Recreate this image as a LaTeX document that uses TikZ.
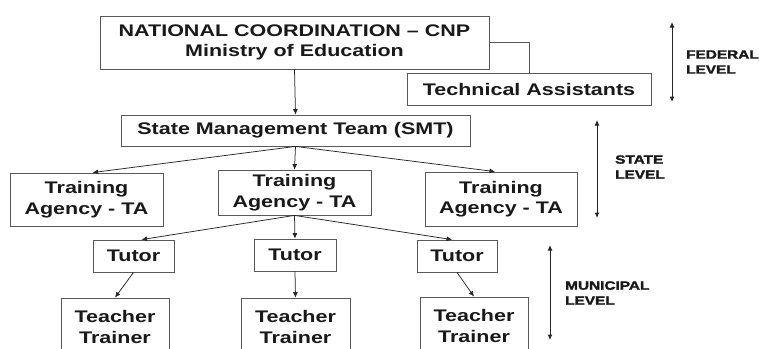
\documentclass[tikz,border=0pt]{standalone}
\usepackage{fontspec}
\setmainfont{Liberation Sans}[FakeStretch=1.28]
\newfontfamily\lvlfont{Liberation Sans Bold}[FakeStretch=1.28, FakeBold=2]
\usetikzlibrary{arrows.meta}
\begin{document}
\begin{tikzpicture}[x=1pt,y=-1pt,
  box/.style={draw=black!65, line width=0.8pt, fill=white, inner sep=0pt, align=center,
    font=\fontsize{16.8}{20.5}\selectfont\bfseries, text=black!90},
  con/.style={draw=black!85, line width=0.75pt, -{Latex[length=5.5pt,width=5pt]}},
  plain/.style={draw=black!65, line width=0.8pt},
  lvl/.style={draw=black!85, line width=1pt, {Latex[length=5.5pt,width=5pt]}-{Latex[length=5.5pt,width=5pt]}},
  lbl/.style={anchor=west, align=left, inner sep=0pt, text=black!90,
    font=\lvlfont\fontsize{12}{15}\selectfont}]
\useasboundingbox (0,0) rectangle (759,348);
\clip (0,0) rectangle (759,348);
\fill[white] (0,0) rectangle (759,348);

\node[box, minimum width=389pt, minimum height=53pt] (nat) at (294.5,42.5) {NATIONAL COORDINATION – CNP\\Ministry of Education};
\draw[plain] (nat.east) -| (529,73) coordinate (techtop);
\node[box, minimum width=244pt, minimum height=32pt] (tech) at (529,89) {Technical Assistants};
\node[box, minimum width=349pt, minimum height=31pt] (smt) at (295.5,130.5) {State Management Team (SMT)};

\node[box, minimum width=153pt, minimum height=53pt] (lta) at (86.5,199.5) {Training\\Agency - TA};
\node[box, minimum width=153pt, minimum height=45pt] (cta) at (294.5,192.5) {Training\\Agency - TA};
\node[box, minimum width=152pt, minimum height=54pt] (rta) at (501,199) {Training\\Agency - TA};

\node[box, minimum width=81pt, minimum height=32pt] (ltu) at (133.5,256) {Tutor};
\node[box, minimum width=82pt, minimum height=32pt] (ctu) at (295,255) {Tutor};
\node[box, minimum width=80pt, minimum height=32pt] (rtu) at (457,256) {Tutor};

\node[box, minimum width=108pt, minimum height=58pt] (lte) at (115,327) {Teacher\\Trainer};
\node[box, minimum width=109pt, minimum height=58pt] (cte) at (295.5,327) {Teacher\\Trainer};
\node[box, minimum width=108pt, minimum height=58pt] (rte) at (474,326) {Teacher\\Trainer};

\draw[con] (nat.south) -- (smt.north);
\draw[con] (smt.south) -- ([xshift=6pt]lta.north);
\draw[con] (smt.south) -- (cta.north);
\draw[con] (smt.south) -- ([xshift=-6pt]rta.north);
\draw[con] (cta.south) -- ([xshift=8pt]ltu.north);
\draw[con] (cta.south) -- (ctu.north);
\draw[con] (cta.south) -- ([xshift=-5pt]rtu.north);
\draw[con] (ltu.south) -- (lte.north);
\draw[con] (ctu.south) -- (cte.north);
\draw[con] (rtu.south) -- (rte.north);

\coordinate (f1) at (672,22); \coordinate (f2) at (672,102);
\coordinate (s1) at (597,120); \coordinate (s2) at (597,218);
\coordinate (m1) at (550,245); \coordinate (m2) at (550,340);
\draw[lvl] (f1) -- (f2);
\draw[lvl] (s1) -- (s2);
\draw[lvl] (m1) -- (m2);

\node[lbl] (fed) at (686,62) {FEDERAL\\LEVEL};
\node[lbl] (sta) at (615,167) {STATE\\LEVEL};
\node[lbl] (mun) at (565,293) {MUNICIPAL\\LEVEL};
\end{tikzpicture}
\end{document}
